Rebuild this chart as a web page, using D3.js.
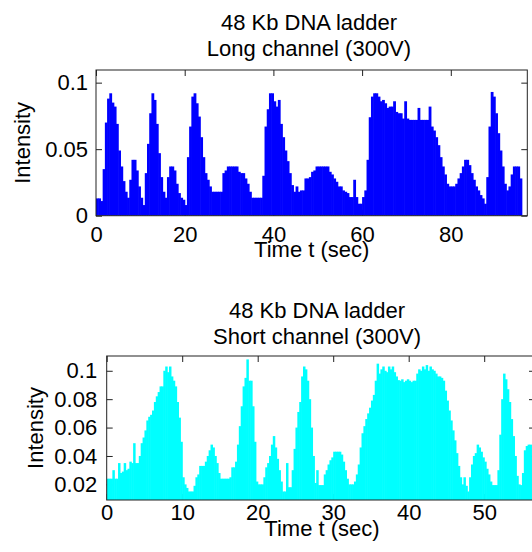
<!DOCTYPE html>
<html>
<head>
<meta charset="utf-8">
<script src="https://cdn.jsdelivr.net/npm/d3@7"></script>
<style>
  html, body { margin: 0; padding: 0; background: #fff; }
  svg { display: block; }
  text { font-family: "Liberation Sans", Arial, sans-serif; fill: #000; }
</style>
</head>
<body>
<svg id="chart" width="532" height="552"></svg>
<script>
// ---------- DATA ----------
const longTitle = ["48 Kb DNA ladder", "Long channel (300V)"];
const shortTitle = ["48 Kb DNA ladder", "Short channel (300V)"];
const xLabel = "Time t (sec)";
const yLabel = "Intensity";

const longBinWidth = 0.5;   // seconds per bar
const longValues = [
  0.013,0.013,0.011,0.035,0.070,0.088,0.092,0.085,0.082,0.069,
  0.049,0.037,0.026,0.018,0.0135,0.027,0.042,0.042,0.034,0.022,
  0.0135,0.008,0.032,0.054,0.077,0.092,0.087,0.069,0.047,0.029,
  0.018,0.0135,0.029,0.037,0.037,0.034,0.024,0.017,0.0135,0.012,
  0.008,0.044,0.067,0.0895,0.092,0.0845,0.0745,0.059,0.044,0.032,
  0.027,0.022,0.018,0.018,0.018,0.018,0.018,0.032,0.034,0.037,
  0.037,0.037,0.037,0.037,0.033,0.032,0.032,0.028,0.024,0.018,
  0.0135,0.0135,0.0135,0.0135,0.0135,0.030,0.067,0.080,0.092,0.092,
  0.086,0.082,0.087,0.069,0.059,0.049,0.041,0.032,0.023,0.018,
  0.022,0.018,0.019,0.019,0.028,0.028,0.029,0.033,0.034,0.037,
  0.037,0.037,0.037,0.037,0.037,0.033,0.031,0.028,0.0255,0.022,
  0.022,0.019,0.018,0.017,0.014,0.014,0.027,0.014,0.009,0.009,
  0.014,0.019,0.042,0.074,0.0895,0.092,0.092,0.0895,0.086,0.087,
  0.0845,0.081,0.082,0.082,0.086,0.078,0.077,0.077,0.073,0.086,
  0.073,0.072,0.072,0.072,0.072,0.081,0.072,0.072,0.072,0.072,
  0.082,0.067,0.064,0.059,0.053,0.044,0.037,0.031,0.024,0.022,
  0.022,0.022,0.024,0.028,0.032,0.037,0.042,0.042,0.038,0.032,
  0.027,0.022,0.019,0.0155,0.013,0.009,0.029,0.067,0.093,0.0895,
  0.077,0.062,0.049,0.037,0.024,0.019,0.022,0.031,0.037,0.037,
  0.037,0.028
];
const longXTicks = [0, 20, 40, 60, 80];
const longYTicks = [0, 0.05, 0.1];
const longYTickLabels = ["0", "0.05", "0.1"];

const shortBinWidth = 0.25; // seconds per bar
const shortValues = [
  0.024,0.024,0.024,0.030,0.024,0.024,0.035,0.028,0.029,0.035,
  0.030,0.031,0.036,0.035,0.049,0.035,0.035,0.040,0.049,0.053,
  0.058,0.065,0.0676,0.069,0.072,0.078,0.082,0.085,0.089,0.089,
  0.100,0.103,0.099,0.103,0.096,0.093,0.089,0.078,0.067,0.050,
  0.025,0.020,0.0175,0.015,0.015,0.015,0.019,0.025,0.027,0.033,
  0.033,0.033,0.036,0.040,0.044,0.048,0.046,0.040,0.035,0.028,
  0.024,0.024,0.024,0.024,0.024,0.025,0.032,0.032,0.036,0.048,
  0.061,0.075,0.089,0.095,0.108,0.093,0.093,0.075,0.050,0.022,
  0.020,0.020,0.020,0.025,0.032,0.035,0.040,0.048,0.054,0.046,
  0.038,0.030,0.022,0.015,0.015,0.035,0.018,0.018,0.030,0.045,
  0.060,0.071,0.078,0.096,0.103,0.101,0.093,0.080,0.060,0.040,
  0.021,0.030,0.0195,0.0195,0.0195,0.027,0.030,0.034,0.037,0.039,
  0.043,0.043,0.043,0.043,0.041,0.036,0.030,0.024,0.020,0.020,
  0.020,0.022,0.027,0.034,0.046,0.056,0.061,0.066,0.070,0.074,
  0.079,0.083,0.093,0.105,0.098,0.101,0.103,0.100,0.099,0.103,
  0.101,0.103,0.099,0.096,0.0934,0.093,0.094,0.092,0.093,0.094,
  0.093,0.092,0.093,0.093,0.098,0.101,0.100,0.103,0.101,0.104,
  0.100,0.103,0.101,0.100,0.098,0.096,0.096,0.095,0.093,0.086,
  0.079,0.072,0.065,0.058,0.051,0.042,0.033,0.025,0.020,0.025,
  0.019,0.015,0.025,0.034,0.040,0.042,0.048,0.046,0.043,0.039,
  0.036,0.031,0.027,0.022,0.0195,0.0195,0.0195,0.030,0.055,0.080,
  0.098,0.094,0.087,0.078,0.066,0.054,0.040,0.026,0.020,0.0195,
  0.028,0.044,0.047,0.048,0.048,0.040,0.035
];
const shortXTicks = [0, 10, 20, 30, 40, 50];
const shortYTicks = [0.02, 0.04, 0.06, 0.08, 0.1];
const shortYTickLabels = ["0.02", "0.04", "0.06", "0.08", "0.1"];

// ---------- DRAW ----------
const svg = d3.select("#chart");
svg.append("rect").attr("width", 532).attr("height", 552).attr("fill", "#fff");

function panel(cfg) {
  const { left, right, top, bottom } = cfg.box;
  const x = d3.scaleLinear().domain(cfg.xDomain).range([left, right]);
  const y = d3.scaleLinear().domain(cfg.yDomain).range([bottom, top]);
  const g = svg.append("g");
  const clipId = "clip" + cfg.id;
  g.append("clipPath").attr("id", clipId)
    .append("rect").attr("x", left).attr("y", top)
    .attr("width", right - left).attr("height", bottom - top);

  const fmt = (d) => cfg.yTickLabels[cfg.yTicks.indexOf(d)];
  const fs = "22px";

  // axes (ticks under data, like MATLAB layer bottom)
  const ax = g.append("g");
  const xb = ax.append("g").attr("transform", `translate(0,${bottom})`)
    .call(d3.axisBottom(x).tickValues(cfg.xTicks).tickSize(-6).tickSizeOuter(0).tickPadding(cfg.xPad).tickFormat(d3.format("d")));
  const xt = ax.append("g").attr("transform", `translate(0,${top})`)
    .call(d3.axisTop(x).tickValues(cfg.xTicks).tickSize(-6).tickSizeOuter(0).tickFormat(""));
  const yl = ax.append("g").attr("transform", `translate(${left},0)`)
    .call(d3.axisLeft(y).tickValues(cfg.yTicks).tickSize(-6).tickSizeOuter(0).tickPadding(cfg.yPad).tickFormat(fmt));
  const yr = ax.append("g").attr("transform", `translate(${right},0)`)
    .call(d3.axisRight(y).tickValues(cfg.yTicks).tickSize(-6).tickSizeOuter(0).tickFormat(""));
  ax.selectAll(".domain").remove();
  ax.selectAll(".tick line").attr("stroke", "#222");
  ax.selectAll(".tick text").style("font-size", fs)
    .style("font-family", '"Liberation Sans", Arial, sans-serif').attr("fill", "#000");

  // bars
  const bw = cfg.binWidth;
  const w = x(bw) - x(0);
  g.append("g").attr("clip-path", `url(#${clipId})`)
    .selectAll("rect").data(cfg.values).join("rect")
    .attr("x", (d, i) => x(i * bw))
    .attr("width", w + 0.6)
    .attr("y", d => y(d))
    .attr("height", d => bottom - y(d))
    .attr("fill", cfg.color);

  // box
  g.append("rect").attr("x", left).attr("y", top)
    .attr("width", right - left).attr("height", bottom - top)
    .attr("fill", "none").attr("stroke", "#222").attr("stroke-width", 1);

  // titles
  cfg.title.forEach((t, i) => {
    g.append("text").attr("x", cfg.titleX).attr("y", cfg.titleY + i * 26)
      .attr("text-anchor", "middle").style("font-size", fs).text(t);
  });
  // x label
  g.append("text").attr("x", cfg.xLabelX).attr("y", cfg.xLabelY)
    .attr("text-anchor", "middle").style("font-size", fs).text(xLabel);
  // y label
  g.append("text")
    .attr("transform", `translate(${cfg.yLabelX},${(top + bottom) / 2}) rotate(-90)`)
    .attr("text-anchor", "middle").style("font-size", fs).text(yLabel);
}

panel({
  id: "long",
  box: { left: 96, right: 527.3, top: 70, bottom: 215.7 },
  xDomain: [0, 97.25], yDomain: [0, 0.1095],
  values: longValues, binWidth: longBinWidth, color: "#0000ff",
  xTicks: longXTicks, yTicks: longYTicks, yTickLabels: longYTickLabels,
  xPad: 11, yPad: 8,
  title: longTitle, titleX: 309, titleY: 30,
  xLabelX: 311.7, xLabelY: 257,
  yLabelX: 30
});

panel({
  id: "short",
  box: { left: 106.7, right: 535, top: 356, bottom: 500 },
  xDomain: [0, 56.73], yDomain: [0.009, 0.1104],
  values: shortValues, binWidth: shortBinWidth, color: "#00ffff",
  xTicks: shortXTicks, yTicks: shortYTicks, yTickLabels: shortYTickLabels,
  xPad: 4.5, yPad: 9.5,
  title: shortTitle, titleX: 317, titleY: 317.5,
  xLabelX: 322, xLabelY: 536,
  yLabelX: 42.5
});
</script>
</body>
</html>
